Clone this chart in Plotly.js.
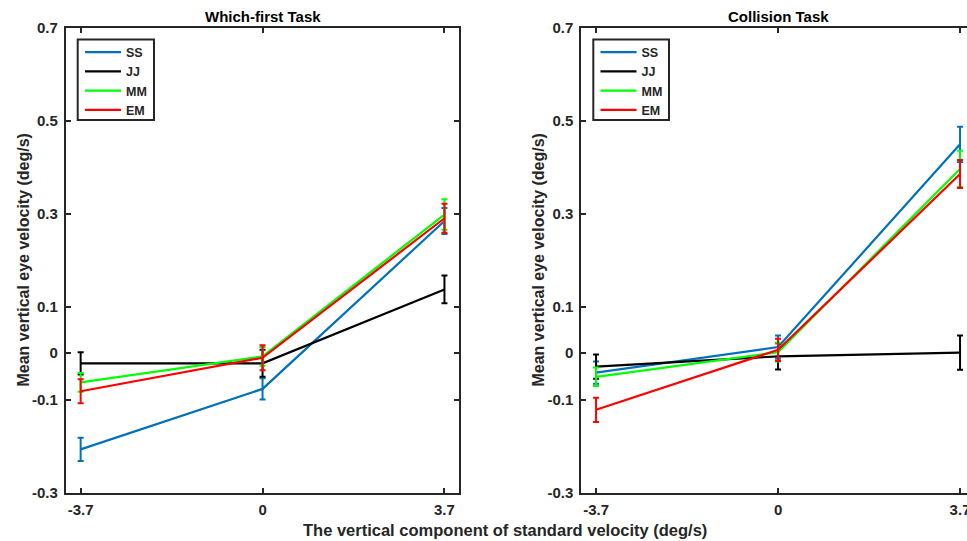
<!DOCTYPE html>
<html>
<head>
<meta charset="utf-8">
<script src="https://cdn.plot.ly/plotly-3.0.1.min.js"></script>
<style>
html,body{margin:0;padding:0;overflow:hidden;background:#fff;}
#chart{width:980px;height:541px;}
</style>
</head>
<body>
<div id="chart"></div>
<script>
// ---- data ----
var xVals = [-3.7, 0, 3.7];
var xTickText = ['-3.7', '0', '3.7'];
var yTickVals = [-0.3, -0.1, 0, 0.1, 0.3, 0.5, 0.7];
var yTickText = ['-0.3', '-0.1', '0', '0.1', '0.3', '0.5', '0.7'];
var seriesNames = ['SS', 'JJ', 'MM', 'EM'];

// Which-first Task
var wfSS = [-0.207, -0.077, 0.284];
var wfSSerr = [0.025, 0.023, 0.028];
var wfJJ = [-0.022, -0.022, 0.137];
var wfJJerr = [0.024, 0.029, 0.030];
var wfMM = [-0.063, -0.007, 0.298];
var wfMMerr = [0.020, 0.020, 0.033];
var wfEM = [-0.082, -0.010, 0.290];
var wfEMerr = [0.026, 0.027, 0.031];

// Collision Task
var coSS = [-0.042, 0.013, 0.449];
var coSSerr = [0.024, 0.025, 0.038];
var coJJ = [-0.029, -0.007, 0.001];
var coJJerr = [0.026, 0.028, 0.037];
var coMM = [-0.051, 0.002, 0.396];
var coMMerr = [0.020, 0.020, 0.039];
var coEM = [-0.122, 0.007, 0.385];
var coEMerr = [0.026, 0.024, 0.030];

var colors = {SS: '#0072BD', JJ: '#000000', MM: '#00FF00', EM: '#FF0000'};

var W = 980, H = 541;
function px(x) { return x / W; }
function py(y) { return 1 - y / H; }

function mk(name, y, err, xa, ya, leg) {
  return {
    type: 'scatter', mode: 'lines', name: name,
    x: xVals, y: y,
    xaxis: xa, yaxis: ya, legend: leg,
    line: {color: colors[name], width: 2.2},
    error_y: {type: 'data', array: err, visible: true, color: colors[name], thickness: 2, width: 3}
  };
}

var data = [
  mk('SS', wfSS, wfSSerr, 'x', 'y', 'legend'),
  mk('JJ', wfJJ, wfJJerr, 'x', 'y', 'legend'),
  mk('MM', wfMM, wfMMerr, 'x', 'y', 'legend'),
  mk('EM', wfEM, wfEMerr, 'x', 'y', 'legend'),
  mk('SS', coSS, coSSerr, 'x2', 'y2', 'legend2'),
  mk('JJ', coJJ, coJJerr, 'x2', 'y2', 'legend2'),
  mk('MM', coMM, coMMerr, 'x2', 'y2', 'legend2'),
  mk('EM', coEM, coEMerr, 'x2', 'y2', 'legend2')
];

var FAM = 'Liberation Sans, Arial, sans-serif';
var tickFont = {family: FAM, size: 15, weight: 'bold', color: '#262626'};
var axCommon = {
  showgrid: false, zeroline: false, showline: true, mirror: 'ticks',
  linecolor: '#262626', linewidth: 2, ticks: 'inside', ticklen: 5, tickwidth: 2, tickcolor: '#262626',
  tickfont: tickFont, fixedrange: true
};
var yDom = [py(492.6), py(27.6)];

function xax(dom) {
  return Object.assign({}, axCommon, {domain: dom, range: [-4, 4], tickmode: 'array', tickvals: xVals, ticktext: xTickText, ticklabelstandoff: 2});
}
function yax(anchor) {
  return Object.assign({}, axCommon, {domain: yDom, range: [-0.3, 0.7], anchor: anchor, tickmode: 'array', tickvals: yTickVals, ticktext: yTickText, ticklabelstandoff: 3});
}

var legCommon = {
  xanchor: 'left', yanchor: 'top', bgcolor: 'rgba(0,0,0,0)', borderwidth: 0,
  font: {family: FAM, size: 12.5, weight: 'bold', color: '#262626'},
  tracegroupgap: 0, itemwidth: 36
};

var titleFont = {family: FAM, size: 15, weight: 'bold', color: '#000000'};
var labFont = {family: FAM, size: 16.5, weight: 'bold', color: '#262626'};
var yLabFont = {family: FAM, size: 16, weight: 'bold', color: '#262626'};

function box(x0, x1) {
  return {type: 'rect', xref: 'paper', yref: 'paper', x0: px(x0), x1: px(x1), y0: py(120), y1: py(39.5),
          line: {color: '#262626', width: 2}, fillcolor: '#ffffff', layer: 'above'};
}

var layout = {
  width: W, height: H,
  margin: {l: 0, r: 0, t: 0, b: 0},
  paper_bgcolor: '#ffffff', plot_bgcolor: '#ffffff',
  showlegend: true,
  xaxis: Object.assign(xax([px(65.9), px(459.2)]), {anchor: 'y'}),
  yaxis: yax('x'),
  xaxis2: Object.assign(xax([px(581.3), px(974.8)]), {anchor: 'y2'}),
  yaxis2: yax('x2'),
  legend: Object.assign({}, legCommon, {x: px(80), y: py(37.5)}),
  legend2: Object.assign({}, legCommon, {x: px(595.5), y: py(37.5)}),
  shapes: [box(77.7, 154), box(593.3, 669)],
  annotations: [
    {text: 'Which-first Task', xref: 'paper', yref: 'paper', x: px(262.5), y: py(17), xanchor: 'center', yanchor: 'middle', showarrow: false, font: titleFont},
    {text: 'Collision Task', xref: 'paper', yref: 'paper', x: px(778.3), y: py(17), xanchor: 'center', yanchor: 'middle', showarrow: false, font: titleFont},
    {text: 'Mean vertical eye velocity (deg/s)', xref: 'paper', yref: 'paper', x: px(22.5), y: py(260), xanchor: 'center', yanchor: 'middle', textangle: -90, showarrow: false, font: yLabFont},
    {text: 'Mean vertical eye velocity (deg/s)', xref: 'paper', yref: 'paper', x: px(537.5), y: py(260), xanchor: 'center', yanchor: 'middle', textangle: -90, showarrow: false, font: yLabFont},
    {text: 'The vertical component of standard velocity (deg/s)', xref: 'paper', yref: 'paper', x: px(504.5), y: py(530), xanchor: 'center', yanchor: 'middle', showarrow: false, font: labFont}
  ]
};

Plotly.newPlot('chart', data, layout, {displayModeBar: false, staticPlot: true});
</script>
</body>
</html>
